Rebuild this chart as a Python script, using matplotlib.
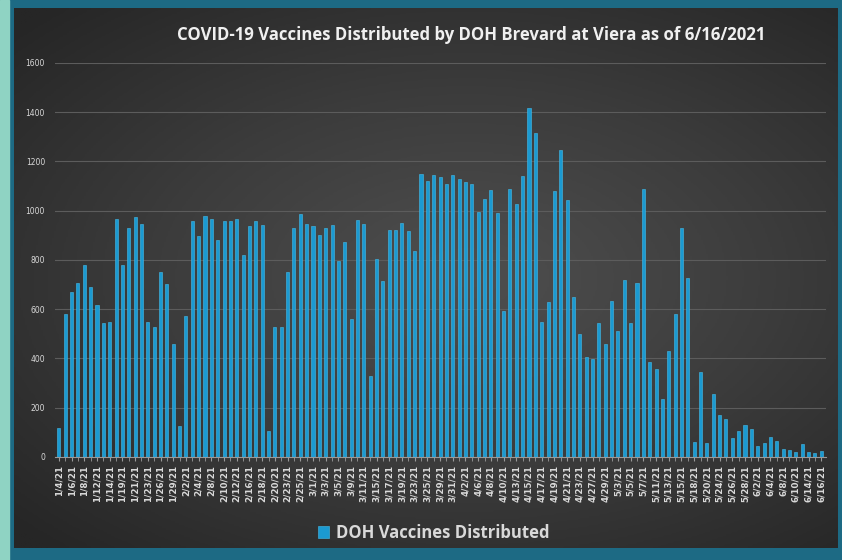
import numpy as np
import matplotlib.pyplot as plt
from matplotlib.patches import Rectangle
from matplotlib.colors import LinearSegmentedColormap

dates = [
    "1/4/21", "1/5/21", "1/6/21", "1/7/21", "1/8/21", "1/11/21", "1/12/21", "1/13/21",
    "1/14/21", "1/15/21", "1/19/21", "1/20/21", "1/21/21", "1/22/21", "1/23/21", "1/25/21",
    "1/26/21", "1/28/21", "1/29/21", "2/1/21", "2/2/21", "2/3/21", "2/4/21", "2/5/21",
    "2/8/21", "2/9/21", "2/10/21", "2/11/21", "2/12/21", "2/15/21", "2/16/21", "2/17/21",
    "2/18/21", "2/19/21", "2/20/21", "2/22/21", "2/23/21", "2/24/21", "2/25/21", "2/26/21",
    "3/1/21", "3/2/21", "3/3/21", "3/4/21", "3/5/21", "3/8/21", "3/9/21", "3/10/21",
    "3/11/21", "3/12/21", "3/15/21", "3/16/21", "3/17/21", "3/18/21", "3/19/21", "3/22/21",
    "3/23/21", "3/24/21", "3/25/21", "3/26/21", "3/29/21", "3/30/21", "3/31/21", "4/1/21",
    "4/2/21", "4/5/21", "4/6/21", "4/7/21", "4/8/21", "4/9/21", "4/10/21", "4/12/21",
    "4/13/21", "4/14/21", "4/15/21", "4/16/21", "4/17/21", "4/18/21", "4/19/21", "4/20/21",
    "4/21/21", "4/22/21", "4/23/21", "4/26/21", "4/27/21", "4/28/21", "4/29/21", "4/30/21",
    "5/3/21", "5/4/21", "5/5/21", "5/6/21", "5/7/21", "5/10/21", "5/11/21", "5/12/21",
    "5/13/21", "5/14/21", "5/15/21", "5/17/21", "5/18/21", "5/19/21", "5/20/21", "5/21/21",
    "5/24/21", "5/25/21", "5/26/21", "5/27/21", "5/28/21", "6/1/21", "6/2/21", "6/3/21",
    "6/4/21", "6/7/21", "6/8/21", "6/9/21", "6/10/21", "6/11/21", "6/14/21", "6/15/21",
    "6/16/21",
]

doses = [
    119, 580, 670, 708, 779, 689, 619, 544, 548, 967, 779, 930, 975, 948, 548, 529,
    750, 701, 458, 126, 571, 957, 898, 979, 967, 880, 959, 959, 968, 819, 940, 957,
    941, 106, 527, 527, 750, 928, 986, 947, 938, 900, 931, 943, 796, 874, 559, 962,
    946, 330, 804, 716, 923, 923, 950, 919, 835, 1150, 1119, 1145, 1136, 1107, 1147, 1128,
    1116, 1108, 996, 1047, 1086, 989, 592, 1088, 1028, 1143, 1418, 1316, 547, 631, 1081, 1245,
    1044, 651, 500, 408, 397, 544, 459, 635, 513, 719, 544, 707, 1089, 386, 357, 237,
    429, 581, 928, 728, 62, 347, 58, 257, 169, 155, 76, 107, 131, 112, 45, 58,
    82, 64, 31, 30, 20, 53, 22, 16, 23,
]

title = "COVID-19 Vaccines Distributed by DOH Brevard at Viera as of 6/16/2021"
series_name = "DOH Vaccines Distributed"

bar_color = "#1b9ad2"
text_color = "#d9d9d9"

fig = plt.figure(figsize=(8.42, 5.6), dpi=100)
fig.patch.set_facecolor("#1d6a84")

# pale strip on the left edge
fig.patches.append(Rectangle((0, 0), 0.011, 1, transform=fig.transFigure,
                             color="#8fd3c3", zorder=0))

# dark radial gradient panel
bg = fig.add_axes([0.017, 0.022, 0.978, 0.963])
yy, xx = np.mgrid[-1:1:300j, -1:1:450j]
r = np.clip(np.sqrt((xx - 0.1) ** 2 + (yy * 1.1) ** 2) / 1.5, 0, 1)
shade = LinearSegmentedColormap.from_list("shade", ["#4f4f4f", "#3c3c3c", "#262626"])
bg.imshow(r, cmap=shade, vmin=0, vmax=1, aspect="auto", extent=[0, 1, 0, 1])
bg.set_axis_off()

ax = fig.add_axes([0.065, 0.184, 0.916, 0.7035])
ax.patch.set_alpha(0)
x = np.arange(len(doses))
ax.bar(x, doses, width=0.48, color=bar_color, edgecolor="#45bdea",
       linewidth=0.4, zorder=3, label=series_name)

ax.set_ylim(0, 1600)
ax.set_xlim(-0.65, len(doses) - 0.25)
ax.set_yticks(range(0, 1601, 200))
ax.yaxis.grid(True, color="#5c5c5c", linewidth=0.8, zorder=0)
ax.tick_params(axis="y", length=0, colors=text_color, labelsize=5.5, pad=7)

ax.set_xticks(x[::2])
ax.set_xticklabels(dates[::2], rotation=90, fontsize=6.3, fontweight="bold",
                   color=text_color)
ax.set_xticks(x, minor=True)
ax.tick_params(axis="x", which="both", length=3, color="#9a9a9a", pad=3)

for s in ["top", "right", "left"]:
    ax.spines[s].set_visible(False)
ax.spines["bottom"].set_color("#9a9a9a")

fig.text(0.56, 0.937, title, ha="center", va="center", fontsize=12.1,
         fontweight="bold", color="#f0f0f0", family="Open Sans")

leg = fig.legend(loc="center", bbox_to_anchor=(0.515, 0.048), frameon=False,
                 fontsize=12, handlelength=0.7, handleheight=0.7,
                 handletextpad=0.4)
for t in leg.get_texts():
    t.set_color(text_color)
    t.set_fontfamily("Open Sans")
    t.set_fontweight("bold")

fig.savefig("out.png", dpi=100, facecolor=fig.get_facecolor())
